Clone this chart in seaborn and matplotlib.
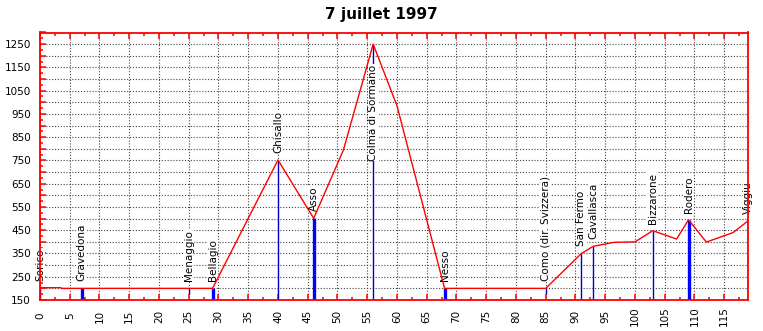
import matplotlib
matplotlib.use("Agg")
import matplotlib.pyplot as plt
import seaborn as sns
import pandas as pd
from matplotlib.ticker import MultipleLocator, FuncFormatter

# ---- data ----
profile_km = [0, 3.5, 3.6, 7, 25, 29, 40, 46, 51, 56, 60, 68, 85, 91, 93, 96.5, 100, 103, 107, 109, 112, 116.5, 119]
profile_alt = [203, 203, 200, 200, 200, 200, 752, 501, 795, 1250, 985, 200, 200, 350, 381, 398, 400, 448, 412, 495, 399, 440, 490]

place_names = ["Sorico", "Gravedona", "Menaggio", "Bellagio", "Ghisallo", "Asso",
               "Colma di Sormano", "Nesso", "Como (dir. Svizzera)", "San Fermo",
               "Cavallasca", "Bizzarone", "Rodero", "Viggiu"]
place_km = [0, 7, 25, 29, 40, 46, 56, 68, 85, 91, 93, 103, 109, 119]
place_alt = [203, 200, 200, 200, 752, 501, 1250, 200, 200, 350, 381, 448, 495, 490]
place_base = [150, 150, 175, 150, 150, 150, 150, 150, 175, 150, 150, 150, 150, 150]
place_major = [False, True, False, True, False, True, False, True, False, False, False, False, True, False]

title = "7 juillet 1997"

# ---- figure ----
sns.set_style("white")
plt.rcParams['font.family'] = ['DejaVu Sans']
plt.rcParams['text.color'] = 'black'

fig = plt.figure(figsize=(7.63, 3.31), dpi=100)
ax = fig.add_axes([40 / 763, 1 - 300 / 331, 708 / 763, (300 - 32.5) / 331])

df = pd.DataFrame({"km": profile_km, "alt": profile_alt})
sns.lineplot(data=df, x="km", y="alt", color="#ff0000", linewidth=1.0,
             sort=False, estimator=None, ax=ax, zorder=3)

for name, k, a, b, big in zip(place_names, place_km, place_alt, place_base, place_major):
    ax.vlines(k, b, a, colors="#0000ff" if big else "#0000cc",
              linewidth=2.4 if big else 1.0, zorder=2)
    anchor = a if a < 1000 else 718
    ax.annotate(name, xy=(k, anchor), xytext=(0, 7), textcoords="offset pixels",
                rotation=90, ha="center", va="bottom", fontsize=7.5, color="black",
                zorder=2.5, bbox=dict(facecolor="white", edgecolor="none", pad=0.3))

ax.set_xlim(0, 119)
ax.set_ylim(150, 1300)
ax.set_xlabel("")
ax.set_ylabel("")

ax.xaxis.set_major_locator(MultipleLocator(5))
ax.xaxis.set_minor_locator(MultipleLocator(2.5))
ax.yaxis.set_major_locator(MultipleLocator(50))
ax.yaxis.set_minor_locator(MultipleLocator(25))
ax.yaxis.set_major_formatter(FuncFormatter(lambda v, p: f"{int(round(v))}" if int(round(v)) % 100 == 50 else ""))
ax.xaxis.set_major_formatter(FuncFormatter(lambda v, p: f"{int(round(v))}"))

ax.tick_params(axis="both", which="both", direction="in", color="#ff0000",
               labelcolor="black", labelsize=7.5, width=1.1)
ax.tick_params(axis="both", which="major", length=4.5)
ax.tick_params(axis="both", which="minor", length=2.4)
ax.tick_params(axis="x", which="both", top=True, bottom=True)
ax.tick_params(axis="y", which="both", left=True, right=False)
ax.tick_params(axis="x", which="major", pad=11.5, labelrotation=90)
ax.tick_params(axis="y", which="major", pad=6.5)
for lbl in ax.get_xticklabels():
    lbl.set_verticalalignment("center")

ax.grid(True, which="major", color="#444444", linestyle=(0, (1, 1.6)), linewidth=0.8, zorder=1)
ax.set_axisbelow(True)

for side in ["left", "right", "top", "bottom"]:
    ax.spines[side].set_visible(True)
    ax.spines[side].set_color("#ff0000")
    ax.spines[side].set_linewidth(1.3)
    ax.spines[side].set_zorder(5)

fig.text(0.5, 1 - 15 / 331, title, ha="center", va="center", fontsize=11,
         fontweight="bold", color="black")

fig.savefig("out.png", dpi=100)
